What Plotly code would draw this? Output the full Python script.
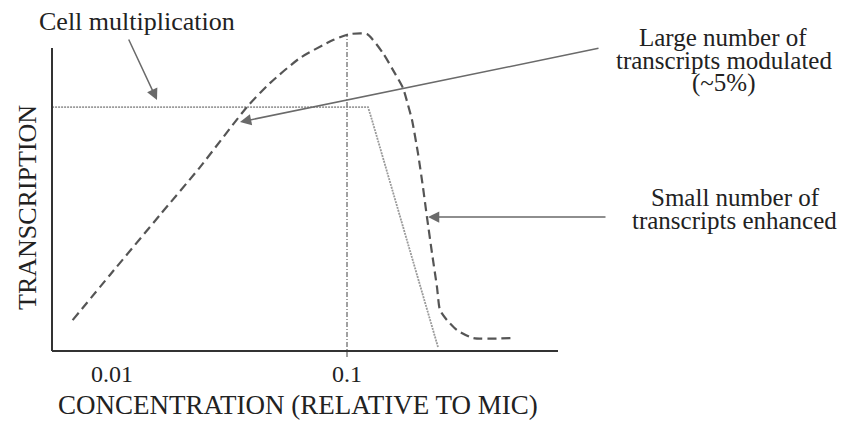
import plotly.graph_objects as go

# ---- data ----
conc_modulated = [0.0068, 0.0098, 0.0160, 0.0237, 0.0375, 0.0470, 0.0631, 0.0872, 0.1030,
                  0.1216, 0.1423, 0.1570, 0.1730, 0.1818, 0.1891, 0.2004, 0.2105, 0.2189,
                  0.2300, 0.2415, 0.2487, 0.2663, 0.2938, 0.3438, 0.5087]
trans_modulated = [10.2, 25.1, 44.9, 60.7, 80.5, 88.4, 96.7, 102.6, 104.6,
                   104.6, 98.3, 92.7, 86.8, 81.2, 76.2, 65.3, 54.1, 44.2,
                   32.3, 21.1, 13.5, 10.2, 6.9, 4.3, 4.3]

conc_cell = [0.00556, 0.1229, 0.1278, 0.2439]
trans_cell = [80.5, 80.5, 76.2, 1.3]

conc_ref = [0.1, 0.1]
trans_ref = [-2.0, 104.6]

tick_vals = [0.01, 0.1]
tick_text = ["0.01", "0.1"]

# ---- layout helpers (reference pixel -> paper) ----
OFF = 8                      # page body margin of the html page
W, H = 859 - OFF, 421 - OFF  # figure size so it fits the window
L, R, T, B = 52, 849, 10, 360  # plot area in reference pixels


def px(x):
    return (x - L) / (R - L)


def py(y):
    return (B - y) / (B - T)


FONT = "Liberation Serif, Times New Roman, serif"
TXT = "#222222"

fig = go.Figure()
fig.add_trace(go.Scatter(x=conc_cell, y=trans_cell, mode="lines",
                         line=dict(color="#9a9a9a", width=1.8, dash="2px,1px"),
                         hoverinfo="skip", showlegend=False))
fig.add_trace(go.Scatter(x=conc_ref, y=trans_ref, mode="lines",
                         line=dict(color="#7a7a7a", width=1.4, dash="5px,2px,1px,2px"),
                         hoverinfo="skip", showlegend=False))
fig.add_trace(go.Scatter(x=conc_modulated, y=trans_modulated, mode="lines",
                         line=dict(color="#555555", width=2.2, dash="9px,5px",
                                   shape="spline", smoothing=0.6),
                         hoverinfo="skip", showlegend=False))

# axis lines
fig.add_shape(type="line", xref="paper", yref="paper", x0=px(52), x1=px(52),
              y0=py(48), y1=py(351), line=dict(color="#333333", width=2))
fig.add_shape(type="line", xref="paper", yref="paper", x0=px(52), x1=px(558),
              y0=py(351), y1=py(351), line=dict(color="#333333", width=2))

ann = []


def text(t, x, y, size=25):
    ann.append(dict(text=t, xref="paper", yref="paper", x=px(x), y=py(y),
                    xanchor="center", yanchor="middle", showarrow=False,
                    font=dict(family=FONT, size=size, color=TXT)))


def arrow(x0, y0, x1, y1):
    ann.append(dict(text="", xref="paper", yref="paper", x=px(x1), y=py(y1),
                    ax=x0 - x1, ay=y0 - y1, showarrow=True, arrowhead=2,
                    arrowsize=1.5, arrowwidth=1.5, arrowcolor="#6a6a6a",
                    standoff=0, startstandoff=0))


text("Cell multiplication", 137, 21, 26)
text("Large number of", 723, 38)
text("transcripts modulated", 724, 61)
text("(~5%)", 724, 83)
text("Small number of", 735, 197)
text("transcripts enhanced", 734, 220)
text("CONCENTRATION (RELATIVE TO MIC)", 298, 405, 27)
ann.append(dict(text="TRANSCRIPTION", xref="paper", yref="paper", x=px(27), y=py(208),
                xanchor="center", yanchor="middle", showarrow=False, textangle=-90,
                font=dict(family=FONT, size=26, color=TXT)))

arrow(128, 38, 157, 100)
arrow(600, 48, 240, 122)
arrow(607, 217, 428, 217)

fig.update_layout(
    width=W, height=H,
    margin=dict(l=L - OFF, r=W - (R - OFF), t=T - OFF, b=H - (B - OFF)),
    paper_bgcolor="white", plot_bgcolor="white",
    annotations=ann,
    xaxis=dict(type="log", range=[-1 - (347 - L) / 235, -1 + (R - 347) / 235],
               tickvals=tick_vals, ticktext=tick_text, showgrid=False, zeroline=False,
               showline=False, ticks="", ticklabelstandoff=-3,
               tickfont=dict(family=FONT, size=24, color=TXT)),
    yaxis=dict(range=[(351 - B) / 3.03, (351 - T) / 3.03], showgrid=False,
               zeroline=False, showline=False, showticklabels=False, ticks=""),
)

fig.write_html("out.html")
